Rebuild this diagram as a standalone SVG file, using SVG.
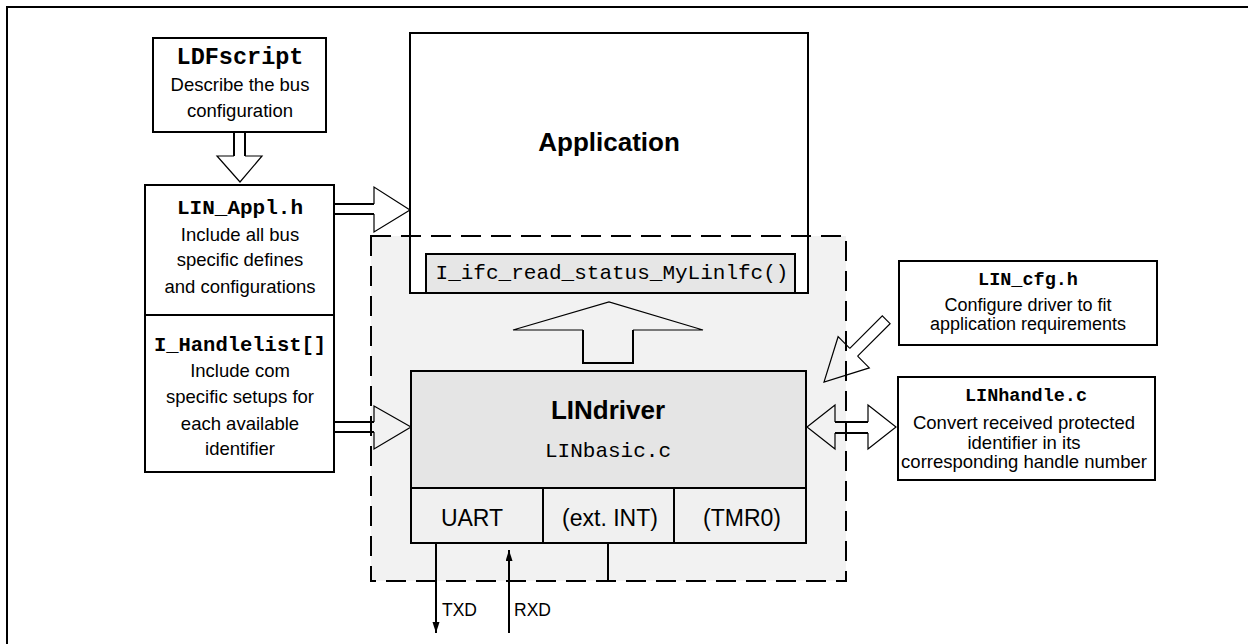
<svg xmlns="http://www.w3.org/2000/svg" width="1248" height="644" viewBox="0 0 1248 644">
  <defs>
    <style>
      .box { fill: #ffffff; stroke: #000000; stroke-width: 2; }
      .sans { font-family: "Liberation Sans", Arial, sans-serif; fill: #000000; text-anchor: middle; }
      .mono { font-family: "Liberation Mono", "Courier New", monospace; fill: #000000; text-anchor: middle; }
      .body { font-size: 18.5px; }
      .hdr { font-weight: bold; }
      .start { text-anchor: start; }
      .head { fill: none; stroke: #000000; stroke-width: 1.2; stroke-linejoin: miter; }
      .shaft { fill: none; stroke: #000000; stroke-width: 2; }
      .wire { fill: none; stroke: #000000; stroke-width: 2; }
    </style>
    <marker id="tip" markerUnits="userSpaceOnUse" markerWidth="12" markerHeight="8" refX="11" refY="3.5" orient="auto">
      <path d="M0,0 L11,3.5 L0,7 z" fill="#000000"/>
    </marker>
  </defs>

  <!-- page frame -->
  <g id="frame">
    <path d="M7,644 V7 H1248" fill="none" stroke="#000000" stroke-width="2"/>
  </g>

  <!-- shaded driver area (outline drawn later, on top) -->
  <rect id="driver-area" x="371" y="236" width="475" height="345" fill="#f2f2f2"/>

  <g id="application">
    <rect class="box" x="410" y="33" width="398" height="260"/>
    <text class="sans hdr" x="609" y="151" font-size="26">Application</text>
  </g>

  <g id="ifc-read-status">
    <rect x="426" y="254" width="369" height="39" fill="#e6e6e6" stroke="#000000" stroke-width="2"/>
    <text class="mono" x="612" y="279" font-size="21" fill="#222222">I_ifc_read_status_MyLinlfc()</text>
  </g>

  <g id="lindriver">
    <rect x="411" y="371" width="395" height="117" fill="#e5e5e5" stroke="#000000" stroke-width="2"/>
    <text class="sans hdr" x="608" y="419" font-size="26">LINdriver</text>
    <text class="mono" x="608" y="457" font-size="21" fill="#222222">LINbasic.c</text>
  </g>

  <g id="uart">
    <rect x="411" y="488" width="132" height="55" fill="#f0f0f0" stroke="#000000" stroke-width="2"/>
    <text class="sans" x="472" y="526" font-size="23">UART</text>
  </g>
  <g id="ext-int">
    <rect x="543" y="488" width="131" height="55" fill="#f0f0f0" stroke="#000000" stroke-width="2"/>
    <text class="sans" x="610" y="526" font-size="23">(ext. INT)</text>
  </g>
  <g id="tmr0">
    <rect x="674" y="488" width="132" height="55" fill="#f0f0f0" stroke="#000000" stroke-width="2"/>
    <text class="sans" x="742" y="526" font-size="23">(TMR0)</text>
  </g>

  <!-- dashed boundary of the driver area -->
  <rect id="driver-boundary" x="371" y="236" width="475" height="345" fill="none" stroke="#000000" stroke-width="2" stroke-dasharray="20 10"/>

  <g id="ldfscript">
    <rect class="box" x="153" y="38" width="173" height="94"/>
    <text class="mono hdr" x="240" y="64" font-size="23.5">LDFscript</text>
    <text class="sans body" x="240" y="91">Describe the bus</text>
    <text class="sans body" x="240" y="117">configuration</text>
  </g>

  <g id="lin-appl-h">
    <rect class="box" x="145" y="185" width="189" height="130"/>
    <text class="mono hdr" x="240" y="214" font-size="21">LIN_Appl.h</text>
    <text class="sans body" x="240" y="241">Include all bus</text>
    <text class="sans body" x="240" y="266">specific defines</text>
    <text class="sans body" x="240" y="293">and configurations</text>
  </g>

  <g id="handlelist">
    <rect class="box" x="145" y="315" width="189" height="157"/>
    <text class="mono hdr" x="240" y="351" font-size="20.5">I_Handlelist[]</text>
    <text class="sans body" x="240" y="377">Include com</text>
    <text class="sans body" x="240" y="403">specific setups for</text>
    <text class="sans body" x="240" y="430">each available</text>
    <text class="sans body" x="240" y="455">identifier</text>
  </g>

  <g id="lin-cfg-h">
    <rect class="box" x="899" y="261" width="258" height="84"/>
    <text class="mono hdr" x="1028" y="285" font-size="18.5">LIN_cfg.h</text>
    <text class="sans" x="1028" y="311" font-size="18">Configure driver to fit</text>
    <text class="sans" x="1028" y="329.5" font-size="18">application requirements</text>
  </g>

  <g id="linhandle-c">
    <rect class="box" x="898" y="377" width="257" height="103"/>
    <text class="mono hdr" x="1026" y="401" font-size="18.5">LINhandle.c</text>
    <text class="sans body" x="1024" y="429">Convert received protected</text>
    <text class="sans body" x="1024" y="448.5">identifier in its</text>
    <text class="sans body" x="1024" y="468">corresponding handle number</text>
  </g>

  <g id="connectors">
    <!-- LDFscript -> LIN_Appl.h -->
    <path class="shaft" d="M234,132 V156 M245,132 V156"/>
    <polyline class="head" points="234,156 217,156 240,182 262,156 245,156"/>

    <!-- LIN_Appl.h -> Application -->
    <path class="shaft" d="M334,204 H374 M334,214 H374"/>
    <polyline class="head" points="374,204 374,187 410,210 374,232 374,214"/>

    <!-- I_Handlelist[] -> LINdriver -->
    <path class="shaft" d="M334,422 H374 M334,432 H374"/>
    <polyline class="head" points="374,422 374,406 411,427 374,449 374,432"/>

    <!-- LINdriver -> Application interface -->
    <polyline class="head" points="583,330 513,330 609,302 703,330 633,330"/>
    <path class="shaft" d="M583,330 V363 H633 V330"/>

    <!-- LIN_cfg.h -> driver -->
    <polyline class="head" points="849.8,348.4 838.1,336.7 824,382 869.3,367.9 857.6,356.2"/>
    <polyline class="head" points="849.8,348.4 882.3,315.9 890.1,323.7 857.6,356.2"/>

    <!-- LINdriver <-> LINhandle.c -->
    <path class="shaft" d="M835,422 H868 M835,433 H868"/>
    <polyline class="head" points="835,422 835,405 807,427 835,449 835,433"/>
    <polyline class="head" points="868,422 868,405 896,427 868,449 868,433"/>

    <!-- UART pins -->
    <line class="wire" x1="436" y1="543" x2="436" y2="633" marker-end="url(#tip)"/>
    <line class="wire" x1="509" y1="633" x2="509" y2="550" marker-end="url(#tip)"/>
    <line class="wire" x1="608" y1="543" x2="608" y2="581"/>
    <text class="sans start" x="442" y="616" font-size="17.5">TXD</text>
    <text class="sans start" x="514" y="616" font-size="17.5">RXD</text>
  </g>
</svg>
